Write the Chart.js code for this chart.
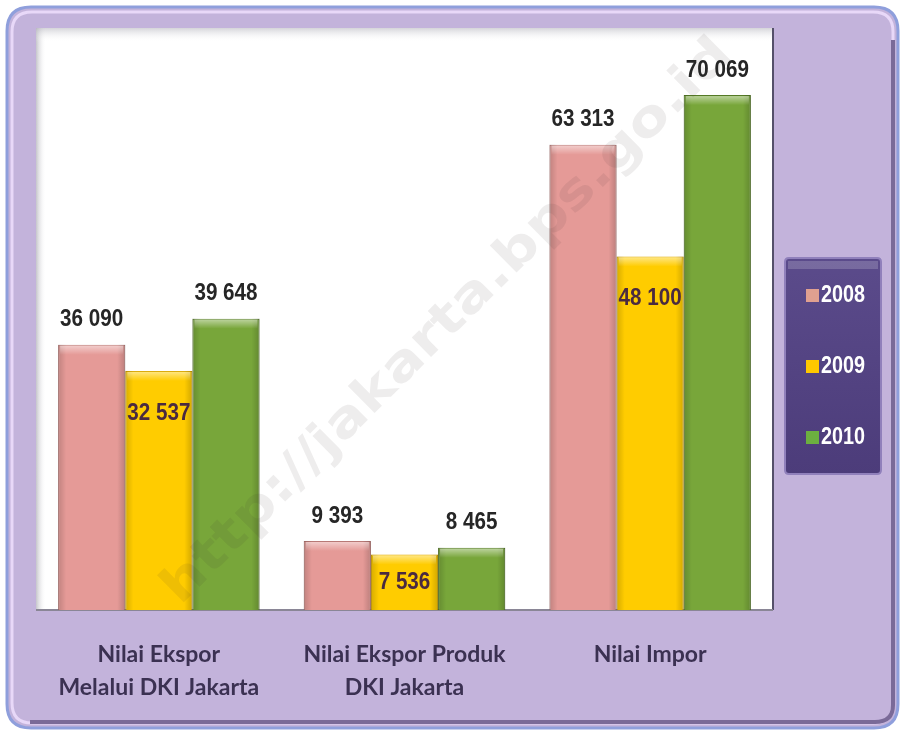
<!DOCTYPE html>
<html>
<head>
<meta charset="utf-8">
<style>
  html, body { margin: 0; padding: 0; background: #ffffff; }
  #wrap { width: 903px; height: 733px; }
</style>
</head>
<body>
<div id="wrap">
  <canvas id="ekspor" width="903" height="733"></canvas>
</div>

<script src="https://cdn.jsdelivr.net/npm/chart.js"></script>
<script>
// data (juta US$)
const categories = [
  ['Nilai Ekspor', 'Melalui DKI Jakarta'],
  ['Nilai Ekspor Produk', 'DKI Jakarta'],
  ['Nilai Impor']
];
const years = ['2008', '2009', '2010'];
const values2008 = [36090, 9393, 63313];
const values2009 = [32537, 7536, 48100];
const values2010 = [39648, 8465, 70069];

const fills = ['#e59a97', '#ffcc00', '#78a63a'];
const edges = ['#b77774', '#d9a800', '#557a26'];
const legendSwatch = ['#e0a090', '#ffc800', '#6cb040'];
const watermark = 'http://jakarta.bps.go.id';

const numFont = 'bold 24px "Liberation Sans", Arial, sans-serif';

function fmt(v) {
  return String(v).replace(/\B(?=(\d{3})+(?!\d))/g, ' ');
}

function roundRect(ctx, x, y, w, h, r) {
  ctx.beginPath();
  ctx.moveTo(x + r, y);
  ctx.lineTo(x + w - r, y);
  ctx.quadraticCurveTo(x + w, y, x + w, y + r);
  ctx.lineTo(x + w, y + h - r);
  ctx.quadraticCurveTo(x + w, y + h, x + w - r, y + h);
  ctx.lineTo(x + r, y + h);
  ctx.quadraticCurveTo(x, y + h, x, y + h - r);
  ctx.lineTo(x, y + r);
  ctx.quadraticCurveTo(x, y, x + r, y);
  ctx.closePath();
}

// narrow text: squeeze horizontally around x
function narrowText(ctx, txt, x, y, sx) {
  ctx.save();
  ctx.translate(x, y);
  ctx.scale(sx, 1);
  ctx.fillText(txt, 0, 0);
  ctx.restore();
}

// frame + white plot area
const framePlugin = {
  id: 'frame',
  beforeDraw(chart) {
    const ctx = chart.ctx;
    const a = chart.chartArea;
    ctx.save();
    ctx.fillStyle = '#ffffff';
    ctx.fillRect(0, 0, chart.width, chart.height);
    // outer rounded panel
    roundRect(ctx, 7, 7, 891, 721, 24);
    ctx.fillStyle = '#c3b3db';
    ctx.fill();
    ctx.lineWidth = 3;
    ctx.strokeStyle = '#8f9fdc';
    ctx.stroke();
    roundRect(ctx, 12, 12, 881, 711, 20);
    ctx.lineWidth = 3;
    ctx.strokeStyle = '#e8d8f8';
    ctx.stroke();
    // lower/right shadow edge
    ctx.beginPath();
    ctx.moveTo(893, 40);
    ctx.lineTo(893, 705);
    ctx.quadraticCurveTo(893, 722, 875, 722);
    ctx.lineTo(30, 722);
    ctx.lineWidth = 4;
    ctx.strokeStyle = '#7a6a98';
    ctx.stroke();

    // plot area
    ctx.fillStyle = '#ffffff';
    ctx.fillRect(a.left, a.top, a.right - a.left, a.bottom - a.top);
    let g = ctx.createLinearGradient(a.left, 0, a.left + 10, 0);
    g.addColorStop(0, 'rgba(150,150,160,0.55)');
    g.addColorStop(1, 'rgba(255,255,255,0)');
    ctx.fillStyle = g;
    ctx.fillRect(a.left, a.top, 10, a.bottom - a.top);
    g = ctx.createLinearGradient(0, a.top, 0, a.top + 14);
    g.addColorStop(0, 'rgba(170,170,180,0.5)');
    g.addColorStop(1, 'rgba(255,255,255,0)');
    ctx.fillStyle = g;
    ctx.fillRect(a.left, a.top, a.right - a.left, 14);
    ctx.strokeStyle = '#55506a';
    ctx.lineWidth = 2;
    ctx.beginPath();
    ctx.moveTo(a.right, a.top);
    ctx.lineTo(a.right, a.bottom);
    ctx.stroke();
    ctx.strokeStyle = '#8a8696';
    ctx.lineWidth = 2;
    ctx.beginPath();
    ctx.moveTo(a.left, a.bottom);
    ctx.lineTo(a.right, a.bottom);
    ctx.stroke();
    ctx.restore();
  }
};

// bevel on bars, watermark, value labels, legend box
const decoPlugin = {
  id: 'deco',
  afterDatasetsDraw(chart) {
    const ctx = chart.ctx;
    ctx.save();
    chart.data.datasets.forEach((ds, di) => {
      chart.getDatasetMeta(di).data.forEach(bar => {
        const left = bar.x - bar.width / 2;
        const w = bar.width;
        const top = bar.y;
        const h = bar.base - bar.y;
        let g = ctx.createLinearGradient(left, 0, left + w, 0);
        g.addColorStop(0, 'rgba(0,0,0,0.16)');
        g.addColorStop(0.12, 'rgba(0,0,0,0)');
        g.addColorStop(0.88, 'rgba(0,0,0,0)');
        g.addColorStop(1, 'rgba(0,0,0,0.18)');
        ctx.fillStyle = g;
        ctx.fillRect(left, top, w, h);
        g = ctx.createLinearGradient(0, top, 0, top + 10);
        g.addColorStop(0, 'rgba(255,255,255,0.55)');
        g.addColorStop(1, 'rgba(255,255,255,0)');
        ctx.fillStyle = g;
        ctx.fillRect(left + 2, top + 1, w - 4, Math.min(10, h));
      });
    });

    // watermark (translucent grey, diagonal)
    ctx.translate(448, 322);
    ctx.rotate(-Math.atan2(555, 560));
    ctx.font = 'bold 50px "DejaVu Sans", sans-serif';
    const wmW = ctx.measureText(watermark).width;
    ctx.scale(780 / wmW, 1);
    ctx.textAlign = 'center';
    ctx.textBaseline = 'middle';
    ctx.fillStyle = 'rgba(60,50,50,0.085)';
    ctx.fillText(watermark, 0, 0);
    ctx.setTransform(1, 0, 0, 1, 0, 0);

    // value labels
    ctx.font = numFont;
    ctx.textAlign = 'center';
    ctx.textBaseline = 'middle';
    chart.data.datasets.forEach((ds, di) => {
      chart.getDatasetMeta(di).data.forEach((bar, i) => {
        const v = ds.data[i];
        if (di === 1) {
          const h = bar.base - bar.y;
          ctx.fillStyle = '#4a2a40';
          narrowText(ctx, fmt(v), bar.x, bar.y + Math.min(42, h / 2), 0.86);
        } else {
          ctx.fillStyle = '#262626';
          narrowText(ctx, fmt(v), bar.x, bar.y - 25, 0.86);
        }
      });
    });

    // legend box
    const lx = 785, ly = 258, lw = 96, lh = 216;
    roundRect(ctx, lx, ly, lw, lh, 4);
    const lg = ctx.createLinearGradient(0, ly, 0, ly + lh);
    lg.addColorStop(0, '#5b4b8b');
    lg.addColorStop(1, '#4c3c7a');
    ctx.fillStyle = lg;
    ctx.fill();
    ctx.lineWidth = 2;
    ctx.strokeStyle = '#9080bb';
    ctx.stroke();
    ctx.fillStyle = 'rgba(255,255,255,0.18)';
    ctx.fillRect(lx + 3, ly + 3, lw - 6, 8);
    ctx.font = 'bold 23px "Liberation Sans", Arial, sans-serif';
    ctx.textAlign = 'left';
    years.forEach((y, i) => {
      const cy = 295 + i * 71;
      ctx.fillStyle = legendSwatch[i];
      ctx.fillRect(806, cy - 6, 13, 13);
      ctx.fillStyle = '#ffffff';
      narrowText(ctx, y, 821, cy + 1, 0.86);
    });
    ctx.restore();
  }
};

const sets = [values2008, values2009, values2010].map((vals, i) => ({
  label: years[i],
  data: vals,
  backgroundColor: fills[i],
  borderColor: edges[i],
  borderWidth: 1,
  categoryPercentage: 0.82,
  barPercentage: 1.0
}));

new Chart(document.getElementById('ekspor').getContext('2d'), {
  type: 'bar',
  data: { labels: categories, datasets: sets },
  options: {
    responsive: false,
    animation: false,
    layout: { padding: { left: 36, right: 130, top: 28, bottom: 0 } },
    plugins: {
      legend: { display: false },
      tooltip: { enabled: false }
    },
    scales: {
      x: {
        grid: { display: false, drawTicks: false },
        border: { display: false },
        ticks: {
          padding: 28,
          color: '#3b3152',
          font: { family: 'Lato, "Open Sans", sans-serif', size: 23, weight: 'bold', lineHeight: 1.43 }
        },
        afterFit(scale) { scale.height = 123; }
      },
      y: {
        display: false,
        min: 0,
        max: 79200
      }
    }
  },
  plugins: [framePlugin, decoPlugin]
});
</script>
</body>
</html>
